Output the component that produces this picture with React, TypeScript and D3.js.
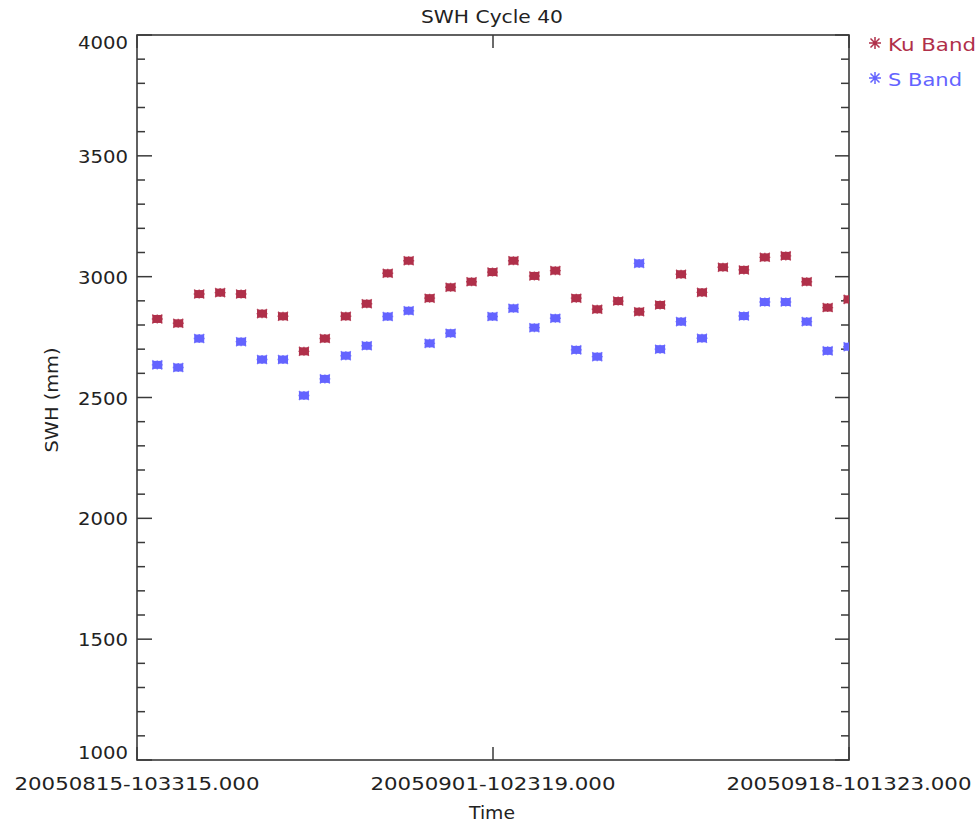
import React from "react";
import * as d3 from "d3";

const dates = [
  "2005-08-16T09:48:00", "2005-08-17T09:48:00", "2005-08-18T09:48:00", "2005-08-19T09:48:00",
  "2005-08-20T09:48:00", "2005-08-21T09:48:00", "2005-08-22T09:48:00", "2005-08-23T09:48:00",
  "2005-08-24T09:48:00", "2005-08-25T09:48:00", "2005-08-26T09:48:00", "2005-08-27T09:48:00",
  "2005-08-28T09:48:00", "2005-08-29T09:48:00", "2005-08-30T09:48:00", "2005-08-31T09:48:00",
  "2005-09-01T09:48:00", "2005-09-02T09:48:00", "2005-09-03T09:48:00", "2005-09-04T09:48:00",
  "2005-09-05T09:48:00", "2005-09-06T09:48:00", "2005-09-07T09:48:00", "2005-09-08T09:48:00",
  "2005-09-09T09:48:00", "2005-09-10T09:48:00", "2005-09-11T09:48:00", "2005-09-12T09:48:00",
  "2005-09-13T09:48:00", "2005-09-14T09:48:00", "2005-09-15T09:48:00", "2005-09-16T09:48:00",
  "2005-09-17T09:48:00", "2005-09-18T09:48:00",
];

const kuBand = [
  2825, 2807, 2928, 2934, 2928, 2847, 2836, 2691, 2744, 2836, 2888, 3014,
  3066, 2911, 2956, 2979, 3019, 3066, 3003, 3025, 2911, 2865, 2899, 2855,
  2883, 3010, 2935, 3039, 3028, 3080, 3086, 2979, 2872, 2906,
];

const sBand: (number | null)[] = [
  2635, 2624, 2744, null, 2731, 2657, 2657, 2508, 2577, 2673, 2714, 2835,
  2859, 2724, 2766, null, 2835, 2869, 2789, 2828, 2697, 2669, null, 3055,
  2700, 2814, 2745, null, 2837, 2895, 2895, 2814, 2693, 2710,
];

const timeDomain = ["2005-08-15T10:33:15", "2005-09-18T10:13:23"];
const xTicks = ["2005-08-15T10:33:15", "2005-09-01T10:23:19", "2005-09-18T10:13:23"];
const xTickLabels = ["20050815-103315.000", "20050901-102319.000", "20050918-101323.000"];
const yMajorTicks = [1000, 1500, 2000, 2500, 3000, 3500, 4000];
const seriesNames = ["Ku Band", "S Band"];
const seriesColors = ["#b0304a", "#6464ff"];

const W = 980;
const H = 822;
const L = 137, R = 849, T = 35, B = 760;
const FONT = "'DejaVu Sans', sans-serif";
const AX = "#3a3a3a";
const TXT = "#222";

function Marker({ x, y, color }: { x: number; y: number; color: string }) {
  return (
    <g transform={`translate(${x},${y})`}>
      <rect x={-5} y={-4} width={10} height={8} fill={color} />
      <path
        d="M-5.5,0H5.5M0,-4.5V4.5M-5,-4.5L5,4.5M-5,4.5L5,-4.5"
        stroke={color}
        strokeWidth={1.4}
        opacity={0.8}
      />
    </g>
  );
}

function Asterisk({ x, y, color }: { x: number; y: number; color: string }) {
  return (
    <path
      transform={`translate(${x},${y})`}
      d="M-6,0H6M0,-6V6M-4.5,-4.5L4.5,4.5M-4.5,4.5L4.5,-4.5"
      stroke={color}
      strokeWidth={1.5}
      fill="none"
    />
  );
}

export default function App() {
  const parse = (s: string) => d3.isoParse(s) as Date;
  const x = d3.scaleTime().domain(timeDomain.map(parse)).range([L, R]);
  const y = d3.scaleLinear().domain([1000, 4000]).range([B, T]);
  const minorTicks = d3.range(1000, 4001, 100).filter((v) => v % 500 !== 0);

  return (
    <svg
      width={W}
      height={H}
      style={{ position: "absolute", left: 0, top: 0, display: "block", background: "#fff" }}
      fontFamily={FONT}
    >
      <defs>
        <clipPath id="plotclip">
          <rect x={L} y={T} width={R - L} height={B - T} />
        </clipPath>
      </defs>
      <rect width={W} height={H} fill="#fff" />

      {/* title */}
      <text x={492} y={23} textAnchor="middle" fontSize={17} fill={TXT} textLength={142} lengthAdjust="spacingAndGlyphs">
        SWH Cycle 40
      </text>

      {/* frame */}
      <rect x={L} y={T} width={R - L} height={B - T} fill="none" stroke={AX} strokeWidth={1.6} />

      {/* y ticks */}
      {yMajorTicks.map((v) => (
        <g key={`ym${v}`}>
          <line x1={L} x2={L + 15} y1={y(v)} y2={y(v)} stroke={AX} strokeWidth={1.5} />
          <line x1={R} x2={R - 14} y1={y(v)} y2={y(v)} stroke={AX} strokeWidth={1.5} />
          <text
            x={128}
            y={v === 4000 ? y(v) + 14 : v === 1000 ? y(v) - 1 : y(v) + 7}
            textAnchor="end"
            fontSize={17}
            fill={TXT}
            textLength={50}
            lengthAdjust="spacingAndGlyphs"
          >
            {v}
          </text>
        </g>
      ))}
      {minorTicks.map((v) => (
        <g key={`yn${v}`}>
          <line x1={L} x2={L + 8} y1={y(v)} y2={y(v)} stroke={AX} strokeWidth={1.5} />
          <line x1={R} x2={R - 8} y1={y(v)} y2={y(v)} stroke={AX} strokeWidth={1.5} />
        </g>
      ))}

      {/* x ticks */}
      {xTicks.map((t, i) => {
        const xx = x(parse(t));
        return (
          <g key={`xt${i}`}>
            <line x1={xx} x2={xx} y1={B} y2={B - 13} stroke={AX} strokeWidth={1.5} />
            <line x1={xx} x2={xx} y1={T} y2={T + 13} stroke={AX} strokeWidth={1.5} />
            <text x={xx} y={790} textAnchor="middle" fontSize={17} fill={TXT} textLength={245} lengthAdjust="spacingAndGlyphs">
              {xTickLabels[i]}
            </text>
          </g>
        );
      })}

      {/* axis titles */}
      <text x={492} y={819} textAnchor="middle" fontSize={17} fill={TXT} textLength={46} lengthAdjust="spacingAndGlyphs">
        Time
      </text>
      <text
        transform={`translate(58,400) rotate(-90)`}
        textAnchor="middle"
        fontSize={17}
        fill={TXT}
        textLength={105}
        lengthAdjust="spacingAndGlyphs"
      >
        SWH (mm)
      </text>

      {/* data */}
      <g clipPath="url(#plotclip)">
        {kuBand.map((v, i) => (
          <Marker key={`ku${i}`} x={x(parse(dates[i]))} y={y(v)} color={seriesColors[0]} />
        ))}
        {sBand.map((v, i) =>
          v == null ? null : <Marker key={`s${i}`} x={x(parse(dates[i]))} y={y(v)} color={seriesColors[1]} />
        )}
      </g>

      {/* legend */}
      {seriesNames.map((n, i) => (
        <g key={n}>
          <Asterisk x={875} y={43 + i * 35} color={seriesColors[i]} />
          <text
            x={888}
            y={51 + i * 35}
            fontSize={17}
            fill={seriesColors[i]}
            textLength={i === 0 ? 88 : 74}
            lengthAdjust="spacingAndGlyphs"
          >
            {n}
          </text>
        </g>
      ))}
    </svg>
  );
}
